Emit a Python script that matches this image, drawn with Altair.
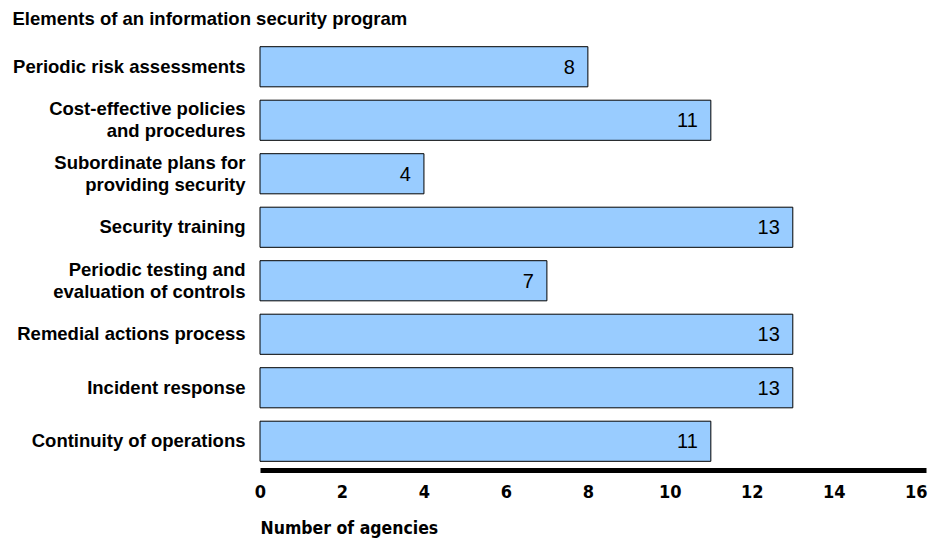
import altair as alt
import pandas as pd

categories = [
    "Periodic risk assessments",
    "Cost-effective policies|and procedures",
    "Subordinate plans for|providing security",
    "Security training",
    "Periodic testing and|evaluation of controls",
    "Remedial actions process",
    "Incident response",
    "Continuity of operations",
]
values = [8, 11, 4, 13, 7, 13, 13, 11]
tick_values = [0, 2, 4, 6, 8, 10, 12, 14, 16]

df = pd.DataFrame({"element": categories, "agencies": values})

y_enc = alt.Y(
    "element:N",
    sort=categories,
    scale=alt.Scale(paddingInner=0.25, paddingOuter=0.125),
    axis=alt.Axis(
        title="Elements of an information security program",
        titleAngle=0,
        titleAlign="left",
        titleBaseline="middle",
        titleX=-248,
        titleY=-22,
        titleFont="Liberation Sans",
        titleFontSize=18.5,
        titleFontWeight="bold",
        titleColor="black",
        labelExpr="split(datum.label, '|')",
        labelFont="Liberation Sans",
        labelFontSize=18.5,
        labelFontWeight="bold",
        labelColor="black",
        labelPadding=15,
        labelLineHeight=22,
        labelLimit=300,
        labelOffset={"condition": {"test": "indexof(datum.value, '|') >= 0", "value": -11}, "value": 0},
        ticks=False,
        domain=False,
        grid=False,
    ),
)

x_enc = alt.X(
    "agencies:Q",
    scale=alt.Scale(domain=[0, 16.25], nice=False),
    axis=alt.Axis(
        title="Number of agencies",
        titleAlign="left",
        titleAnchor="start",
        titleX=0,
        titleY=58,
        titleBaseline="middle",
        titleFont="Liberation Sans Narrow, DejaVu Sans Condensed, Liberation Sans",
        titleFontSize=17.5,
        titleFontWeight="bold",
        titleColor="black",
        values=tick_values,
        labelFont="Liberation Sans Narrow, DejaVu Sans Condensed, Liberation Sans",
        labelFontSize=18,
        labelFontWeight="bold",
        labelColor="black",
        labelPadding=13,
        labelFlush=False,
        ticks=False,
        grid=False,
        domainColor="black",
        domainWidth=5,
        offset=2,
    ),
)

bars = alt.Chart(df).mark_bar(
    fill="#99CCFF", stroke="black", strokeWidth=1
).encode(y=y_enc, x=x_enc)

text = alt.Chart(df).mark_text(
    align="right", baseline="middle", dx=-13, dy=1,
    font="Liberation Sans", fontSize=20, color="black"
).encode(
    y=alt.Y("element:N", sort=categories),
    x=alt.X("agencies:Q"),
    text=alt.Text("agencies:Q"),
)

chart = (bars + text).properties(
    width=666,
    height=428,
    autosize=alt.AutoSizeParams(type="none"),
    padding={"left": 252, "top": 32, "right": 6, "bottom": 70},
    background="white",
).configure_view(stroke=None)

chart.save("out.html", embed_options={"renderer": "svg", "actions": False})
